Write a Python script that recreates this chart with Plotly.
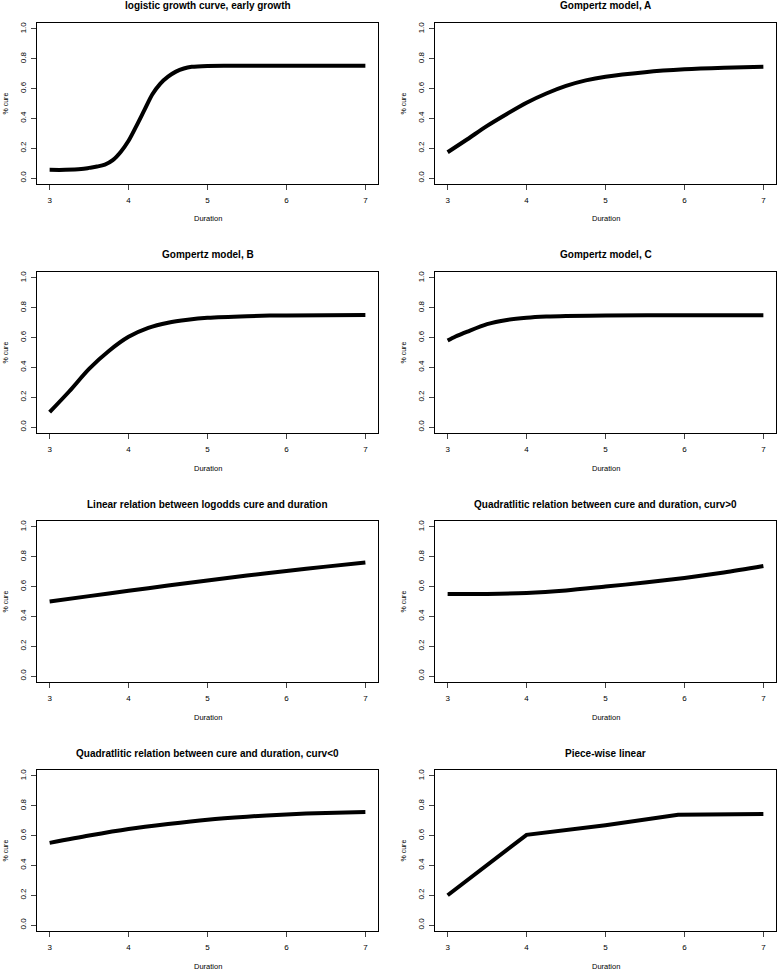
import plotly.graph_objects as go

# ---- data ----
titles = [
    "logistic growth curve, early growth",
    "Gompertz model, A",
    "Gompertz model, B",
    "Gompertz model, C",
    "Linear relation between logodds cure and duration",
    "Quadratlitic relation between cure and duration, curv>0",
    "Quadratlitic relation between cure and duration, curv<0",
    "Piece-wise linear",
]

logistic_x = [3.0, 3.2, 3.4, 3.5, 3.6, 3.7, 3.8, 3.9, 4.0, 4.1, 4.2, 4.3, 4.4, 4.5, 4.6, 4.7, 4.8, 5.0, 5.3, 7.0]
logistic_y = [0.055, 0.055, 0.06, 0.068, 0.077, 0.09, 0.12, 0.175, 0.25, 0.35, 0.455, 0.56, 0.632, 0.68, 0.714, 0.735, 0.746, 0.752, 0.753, 0.753]

gompA_x = [3.0, 3.25, 3.5, 3.75, 4.0, 4.25, 4.5, 4.75, 5.0, 5.5, 6.0, 6.5, 7.0]
gompA_y = [0.173, 0.26, 0.35, 0.43, 0.505, 0.567, 0.618, 0.655, 0.68, 0.71, 0.729, 0.74, 0.747]

gompB_x = [3.0, 3.25, 3.5, 3.75, 4.0, 4.25, 4.5, 4.75, 5.0, 5.5, 6.0, 7.0]
gompB_y = [0.10, 0.24, 0.39, 0.51, 0.605, 0.665, 0.70, 0.72, 0.733, 0.744, 0.749, 0.751]

gompC_x = [3.0, 3.1, 3.25, 3.5, 3.75, 4.0, 4.25, 4.5, 5.0, 6.0, 7.0]
gompC_y = [0.58, 0.607, 0.64, 0.69, 0.718, 0.733, 0.741, 0.745, 0.748, 0.75, 0.75]

logodds_x = [3.0, 3.5, 4.0, 4.5, 5.0, 5.5, 6.0, 6.5, 7.0]
logodds_y = [0.50, 0.536, 0.572, 0.607, 0.641, 0.674, 0.705, 0.734, 0.762]

quadpos_x = [3.0, 3.5, 4.0, 4.5, 5.0, 5.5, 6.0, 6.5, 7.0]
quadpos_y = [0.551, 0.551, 0.557, 0.574, 0.600, 0.627, 0.658, 0.695, 0.738]

quadneg_x = [3.0, 3.5, 4.0, 4.5, 5.0, 5.5, 6.0, 6.5, 7.0]
quadneg_y = [0.551, 0.600, 0.644, 0.678, 0.707, 0.727, 0.742, 0.752, 0.758]

piece_x = [3.0, 4.0, 5.0, 5.92, 7.0]
piece_y = [0.20, 0.605, 0.67, 0.74, 0.745]

x_ticks = [3, 4, 5, 6, 7]
y_ticks = [0.0, 0.2, 0.4, 0.6, 0.8, 1.0]
y_ticktext = ["0.0", "0.2", "0.4", "0.6", "0.8", "1.0"]

series = [
    (logistic_x, logistic_y, "spline"),
    (gompA_x, gompA_y, "spline"),
    (gompB_x, gompB_y, "spline"),
    (gompC_x, gompC_y, "spline"),
    (logodds_x, logodds_y, "spline"),
    (quadpos_x, quadpos_y, "spline"),
    (quadneg_x, quadneg_y, "spline"),
    (piece_x, piece_y, "linear"),
]

# ---- layout geometry ----
W, H = 778, 970
col_left = [37, 435]
box_w = 341
row_top = [23, 272, 521, 770]
box_h = 161
FONT = "Liberation Sans, Arial, sans-serif"

fig = go.Figure()
layout = dict(
    width=W, height=H, autosize=False,
    margin=dict(l=0, r=0, t=0, b=0),
    paper_bgcolor="white", plot_bgcolor="white",
    showlegend=False,
    font=dict(family=FONT, color="black"),
)
annotations = []

for i, (xs, ys, shape) in enumerate(series):
    r, c = divmod(i, 2)
    n = "" if i == 0 else str(i + 1)
    x0 = col_left[c]
    y0 = row_top[r]
    xd = [x0 / W, (x0 + box_w) / W]
    yd = [1 - (y0 + box_h) / H, 1 - y0 / H]
    line = dict(color="black", width=4)
    if shape == "spline":
        line["shape"] = "spline"
        line["smoothing"] = 0.8
    fig.add_trace(go.Scatter(x=xs, y=ys, mode="lines", line=line,
                             xaxis="x" + n, yaxis="y" + n, hoverinfo="skip"))
    layout["xaxis" + n] = dict(
        domain=xd, anchor="y" + n, range=[2.84, 7.16],
        tickvals=x_ticks, ticks="outside", ticklen=5, tickwidth=1,
        showline=True, mirror=True, linecolor="black", linewidth=1.2,
        showgrid=False, zeroline=False,
        tickfont=dict(size=8, family=FONT), ticklabelstandoff=3,
        fixedrange=True,
    )
    layout["yaxis" + n] = dict(
        domain=yd, anchor="x" + n, range=[-0.04, 1.04],
        tickvals=y_ticks, ticktext=y_ticktext, ticks="outside", ticklen=5,
        tickwidth=1, tickangle=-90,
        showline=True, mirror=True, linecolor="black", linewidth=1.2,
        showgrid=False, zeroline=False,
        tickfont=dict(size=8, family=FONT), ticklabelstandoff=2,
        fixedrange=True,
    )
    cx = (x0 + box_w / 2) / W
    annotations.append(dict(text="<b>" + titles[i] + "</b>", x=cx, y=1 - (y0 - 17) / H,
                            xref="paper", yref="paper", showarrow=False,
                            xanchor="center", yanchor="middle",
                            font=dict(size=10, family=FONT)))
    annotations.append(dict(text="Duration", x=cx, y=1 - (y0 + box_h + 35) / H,
                            xref="paper", yref="paper", showarrow=False,
                            xanchor="center", yanchor="middle",
                            font=dict(size=7.5, family=FONT)))
    annotations.append(dict(text="% cure", x=(x0 - 32) / W, y=1 - (y0 + box_h / 2) / H,
                            xref="paper", yref="paper", showarrow=False,
                            xanchor="center", yanchor="middle", textangle=-90,
                            font=dict(size=7, family=FONT)))

layout["annotations"] = annotations
fig.update_layout(**layout)
fig.write_html(
    "out.html",
    config={"displayModeBar": False},
    post_script="document.body.style.margin='0px';document.body.style.overflow='hidden';",
)
